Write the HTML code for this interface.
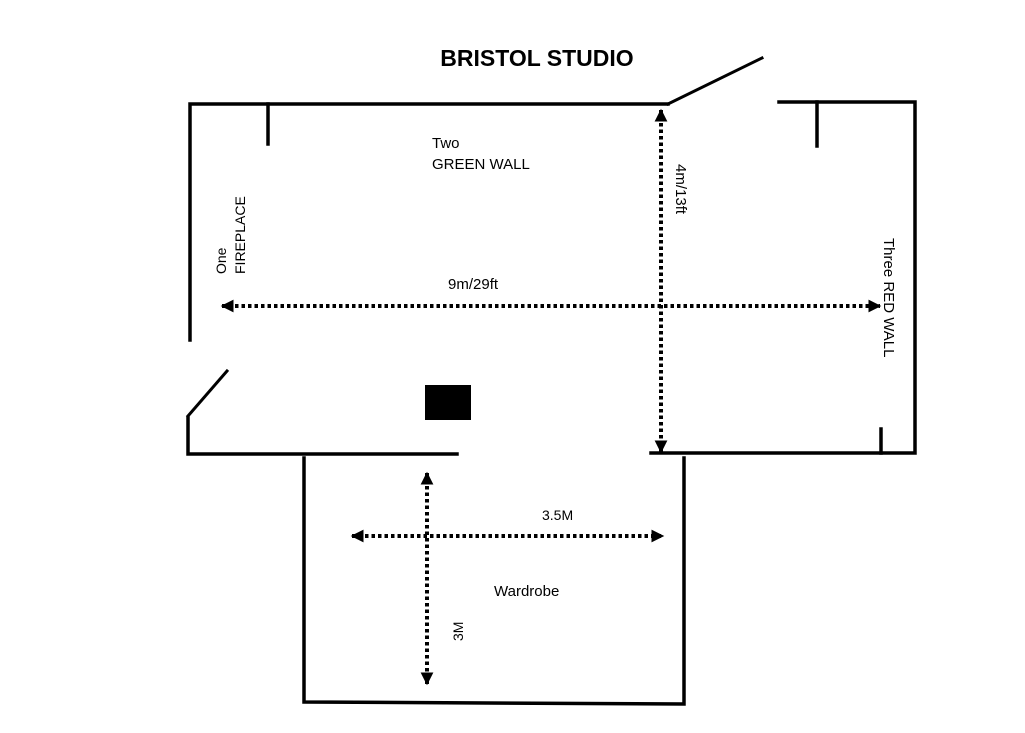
<!DOCTYPE html>
<html><head><meta charset="utf-8"><style>
html,body{margin:0;padding:0;background:#fff;}
svg{display:block;}
text{font-family:"Liberation Sans",sans-serif;fill:#000;}
</style></head><body>
<svg width="1025" height="733" viewBox="0 0 1025 733" xmlns="http://www.w3.org/2000/svg">
<defs>
<marker id="ah" viewBox="0 0 10 10" refX="9" refY="5" markerWidth="3.2" markerHeight="3.2" orient="auto-start-reverse">
<path d="M0,0 L10,5 L0,10 z" fill="#000"/>
</marker>
</defs>
<text x="537" y="66" font-size="23" font-weight="bold" text-anchor="middle">BRISTOL STUDIO</text>
<g stroke="#000" stroke-width="3.5" fill="none" stroke-linecap="square">
<polyline points="668,104 190,104 190,340"/>
<line x1="268" y1="104" x2="268" y2="144"/>
<line x1="668" y1="104" x2="762" y2="58" stroke-width="3"/>
<polyline points="779,102 915,102 915,453 651,453"/>
<line x1="817" y1="102" x2="817" y2="146"/>
<line x1="881" y1="429" x2="881" y2="453"/>
<polyline points="188,418 188,454 457,454"/>
<line x1="188" y1="416" x2="227" y2="371" stroke-width="3"/>
<polyline points="304,458 304,702 684,704 684,458"/>
</g>
<rect x="425" y="385" width="46" height="35" fill="#000"/>
<g stroke="#000" stroke-width="4" stroke-dasharray="3.5,3" fill="none" marker-start="url(#ah)" marker-end="url(#ah)">
<line x1="661" y1="110" x2="661" y2="452"/>
<line x1="222" y1="306" x2="880" y2="306"/>
<line x1="427" y1="473" x2="427" y2="684"/>
<line x1="352" y1="536" x2="663" y2="536"/>
</g>
<text x="432" y="148" font-size="15">Two</text>
<text x="432" y="169" font-size="15">GREEN WALL</text>
<text x="448" y="289" font-size="15">9m/29ft</text>
<text x="542" y="520" font-size="14">3.5M</text>
<text x="494" y="596" font-size="15">Wardrobe</text>
<text transform="translate(676,164) rotate(90)" font-size="15">4m/13ft</text>
<text transform="translate(884,238) rotate(90)" font-size="15">Three RED WALL</text>
<text transform="translate(226,274) rotate(-90)" font-size="14">One</text>
<text transform="translate(245,274) rotate(-90)" font-size="14">FIREPLACE</text>
<text transform="translate(463,641) rotate(-90)" font-size="14">3M</text>
</svg>
</body></html>
